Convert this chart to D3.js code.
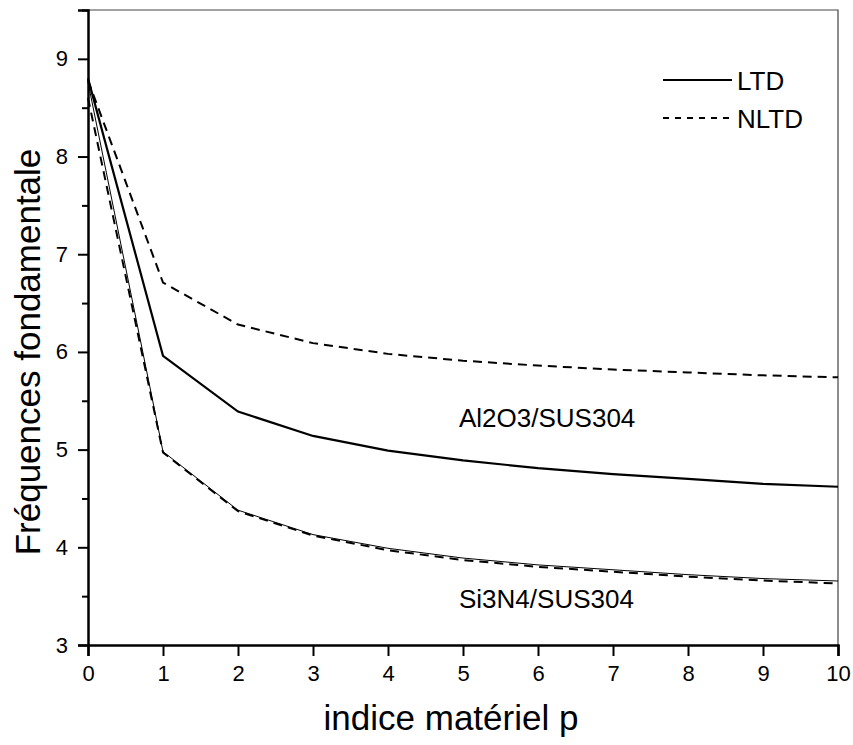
<!DOCTYPE html>
<html>
<head>
<meta charset="utf-8">
<script src="https://cdn.jsdelivr.net/npm/d3@7"></script>
<style>
  body { margin: 0; background: #fff; }
  text { font-family: "Liberation Sans", Arial, sans-serif; fill: #000; }
</style>
</head>
<body>
<div id="chart"></div>
<script>
// indice matériel p
const pValues = [0, 1, 2, 3, 4, 5, 6, 7, 8, 9, 10];
// Al2O3/SUS304
const alLTD  = [8.80, 5.96, 5.39, 5.14, 4.99, 4.89, 4.81, 4.75, 4.70, 4.65, 4.62];
const alNLTD = [8.78, 6.71, 6.28, 6.09, 5.98, 5.91, 5.86, 5.82, 5.79, 5.76, 5.74];
// Si3N4/SUS304
const siLTD  = [8.76, 4.98, 4.38, 4.13, 3.99, 3.89, 3.82, 3.77, 3.72, 3.68, 3.655];
const siNLTD = [8.60, 4.97, 4.37, 4.12, 3.97, 3.87, 3.80, 3.75, 3.70, 3.66, 3.63];
const xTicks = [0, 1, 2, 3, 4, 5, 6, 7, 8, 9, 10];
const yTicks = [3, 4, 5, 6, 7, 8, 9];

const width = 853, height = 745;
const margin = { top: 10, right: 15, bottom: 100, left: 88 };

const svg = d3.select('#chart').append('svg')
  .attr('width', width)
  .attr('height', height);

const x = d3.scaleLinear().domain([0, 10]).range([margin.left, width - margin.right]);
const y = d3.scaleLinear().domain([3, 9.5]).range([height - margin.bottom, margin.top]);

// frame (top and right)
svg.append('path')
  .attr('d', `M${x(0)},${y(9.5)}H${x(10)}V${y(3)}`)
  .attr('fill', 'none')
  .attr('stroke', '#444')
  .attr('stroke-width', 1.2);

// x axis
const xAxis = svg.append('g')
  .attr('transform', 'translate(0,' + y(3) + ')')
  .call(d3.axisBottom(x).tickValues(xTicks).tickSize(11).tickPadding(9).tickFormat(d3.format('d')));
xAxis.select('.domain').attr('stroke-width', 2.5);
xAxis.selectAll('.tick line').attr('stroke-width', 2);
xAxis.selectAll('text').style('font-size', '22px');

// y axis, minor ticks at halves
const yAxis = svg.append('g')
  .attr('transform', 'translate(' + x(0) + ',0)')
  .call(d3.axisLeft(y).tickValues(yTicks).tickSize(10).tickPadding(10).tickFormat(d3.format('d')));
yAxis.select('.domain').attr('stroke-width', 2.5);
yAxis.selectAll('.tick line').attr('stroke-width', 2);
yAxis.selectAll('text').style('font-size', '22px');
svg.append('g')
  .attr('transform', 'translate(' + x(0) + ',0)')
  .call(d3.axisLeft(y).tickValues(d3.range(3.5, 10, 1)).tickSize(6).tickFormat(''))
  .call(g => g.select('.domain').remove())
  .selectAll('line').attr('stroke-width', 2);

const line = d3.line().x((d, i) => x(pValues[i])).y(d => y(d));

const series = [
  { values: alNLTD, dash: '9,6', w: 2 },
  { values: alLTD, dash: null, w: 2.2 },
  { values: siNLTD, dash: '9,6', w: 2 },
  { values: siLTD, dash: null, w: 1 }
];
svg.selectAll('.series')
  .data(series)
  .enter().append('path')
  .attr('class', 'series')
  .attr('d', d => line(d.values))
  .attr('fill', 'none')
  .attr('stroke', '#000')
  .attr('stroke-width', d => d.w)
  .attr('stroke-dasharray', d => d.dash);

// legend
const legend = [
  { label: 'LTD', dash: null, y: 80 },
  { label: 'NLTD', dash: '6,6', y: 118 }
];
const lg = svg.selectAll('.legend').data(legend).enter().append('g').attr('class', 'legend');
lg.append('line')
  .attr('x1', 663).attr('x2', 732)
  .attr('y1', d => d.y).attr('y2', d => d.y)
  .attr('stroke', '#000').attr('stroke-width', 2)
  .attr('stroke-dasharray', d => d.dash);
lg.append('text')
  .attr('x', 737).attr('y', d => d.y + 10)
  .style('font-size', '26px')
  .text(d => d.label);

// annotations
svg.append('text').attr('x', 459).attr('y', 427).style('font-size', '26px').text('Al2O3/SUS304');
svg.append('text').attr('x', 459).attr('y', 608).style('font-size', '26px').text('Si3N4/SUS304');

// axis titles
svg.append('text')
  .attr('x', 451).attr('y', 730)
  .attr('text-anchor', 'middle')
  .style('font-size', '35px')
  .text('indice matériel p');
svg.append('text')
  .attr('transform', 'translate(40,352) rotate(-90)')
  .attr('text-anchor', 'middle')
  .style('font-size', '35px')
  .text('Fréquences fondamentale');
</script>
</body>
</html>
